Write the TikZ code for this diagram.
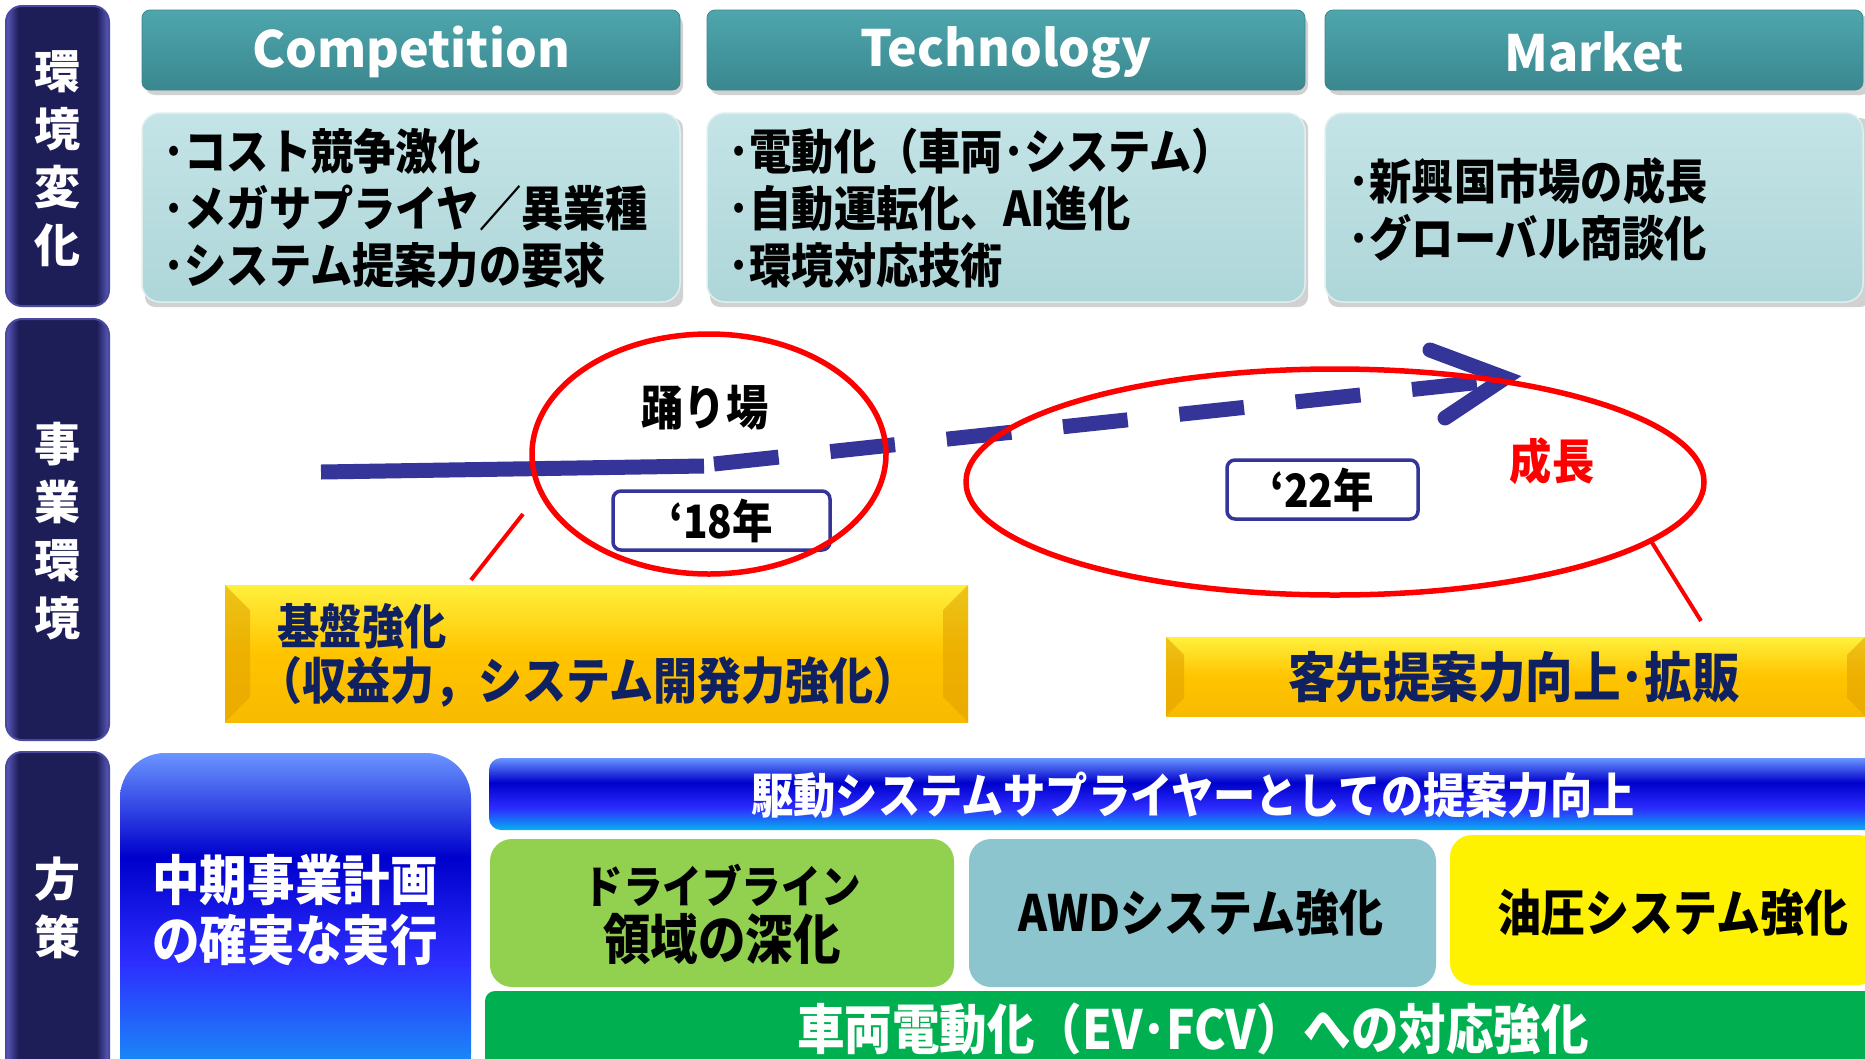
\documentclass[tikz,border=0pt]{standalone}
\usepackage{fontspec}
\usetikzlibrary{shapes.geometric}
\newfontfamily\jp{Noto Sans CJK JP}[FakeStretch=0.88]
\newfontfamily\jpn{Noto Sans CJK JP}
\definecolor{sideDark}{HTML}{1D1D58}
\definecolor{sideEdge}{HTML}{5C5CBF}
\definecolor{hdrTop}{HTML}{4FA6AD}
\definecolor{hdrBot}{HTML}{3A878F}
\definecolor{cTop}{HTML}{C4E4E6}
\definecolor{cBot}{HTML}{AED6D9}
\definecolor{arrowBlue}{HTML}{353599}
\definecolor{navyTxt}{HTML}{0F2160}
\definecolor{yTop}{HTML}{FFF03C}
\definecolor{yMid}{HTML}{FFC400}
\definecolor{yBot}{HTML}{F8BA00}
\definecolor{yBev}{HTML}{E0A000}
\definecolor{bb1}{HTML}{6A94FF}
\definecolor{bb2}{HTML}{0000CC}
\definecolor{bb3}{HTML}{2D2DFF}
\definecolor{bb4}{HTML}{1E78F8}
\definecolor{bb5}{HTML}{08B0F0}
\definecolor{dlGreen}{HTML}{92D050}
\definecolor{awdBlue}{HTML}{8CC5CD}
\definecolor{evGreen}{HTML}{00B050}
\pgfdeclarehorizontalshading{sideshade}{100bp}{color(0bp)=(sideEdge); color(25bp)=(sideEdge); color(31bp)=(sideDark); color(69bp)=(sideDark); color(75bp)=(sideEdge); color(100bp)=(sideEdge)}
\pgfdeclareverticalshading{bluebig}{100bp}{color(0bp)=(bb5); color(25bp)=(bb5); color(33bp)=(bb4); color(45bp)=(bb3); color(60bp)=(bb2); color(75bp)=(bb1); color(100bp)=(bb1)}
\pgfdeclareverticalshading{bluebar}{100bp}{color(0bp)=(bb5); color(25bp)=(bb5); color(40bp)=(bb3); color(58bp)=(bb2); color(75bp)=(bb1); color(100bp)=(bb1)}
\tikzset{
  sidebar/.style={rounded corners=16, draw=sideEdge!70!sideDark, line width=2, shading=sideshade},
  hdr/.style={rounded corners=8, top color=hdrTop, bottom color=hdrBot, draw=hdrBot, line width=0.8},
  shadowbox/.style={rounded corners=10, fill=black, opacity=0.18},
  cbox/.style={rounded corners=18, top color=cTop, bottom color=cBot, draw=white!60!cBot, line width=1.5},
  ybox/.style={top color=yTop, bottom color=yBot, middle color=yMid},
  ybev/.style={fill=yBev, opacity=0.55},
  yrbox/.style={rounded corners=8, fill=white, draw=arrowBlue, line width=3.5},
  redring/.style={ellipse, draw=red, line width=5.5, inner sep=0pt},
  redline/.style={draw=red, line width=4},
  arrowline/.style={draw=arrowBlue, line width=15},
  sidetxt/.style={text=white, font=\jpn\bfseries\fontsize{46}{58}\selectfont, align=center},
  hdrtxt/.style={text=white, font=\jpn\bfseries\fontsize{50}{60}\selectfont},
  ctxt/.style={text=black, font=\jp\bfseries\fontsize{48}{57}\selectfont, align=left, anchor=west},
  ytxt/.style={text=navyTxt, font=\jp\bfseries\fontsize{48}{58}\selectfont},
  yeartxt/.style={text=black, font=\jp\bfseries\fontsize{46}{50}\selectfont},
  wtxt/.style={text=white, font=\jp\bfseries\fontsize{50}{60}\selectfont, align=center},
  btxt/.style={text=black, font=\jp\bfseries\fontsize{50}{56}\selectfont, align=center},
}
\begin{document}
\begin{tikzpicture}[x=1pt, y=-1pt]
\useasboundingbox (0,0) rectangle (1865,1058);
\clip (0,0) rectangle (1865,1058);
\fill[white] (0,0) rectangle (1865,1058);

% ---------- side bars ----------
\path[sidebar] (6,6) rectangle (109,306);
\path[sidebar] (6,319) rectangle (109,740);
\path[sidebar] (6,752) rectangle (109,1090);
\node[sidetxt] (s1) at (57,159) {環\\境\\変\\化};
\node[sidetxt] (s2) at (57,531) {事\\業\\環\\境};
\node[sidetxt] (s3) at (57,908) {方\\策};

% ---------- headers ----------
\path[shadowbox] (145,15) rectangle (683,95);
\path[shadowbox] (710,15) rectangle (1308,95);
\path[shadowbox] (1328,15) rectangle (1870,95);
\path[hdr] (142,10) rectangle (680,90);
\path[hdr] (707,10) rectangle (1305,90);
\path[hdr] (1325,10) rectangle (1863,90);
\node[hdrtxt] (h1) at (411,52) {Competition};
\node[hdrtxt] (h2) at (1006,52) {Technology};
\node[hdrtxt] (h3) at (1594,52) {Market};

% ---------- content boxes ----------
\path[shadowbox] (145,118) rectangle (683,307);
\path[shadowbox] (710,118) rectangle (1308,307);
\path[shadowbox] (1328,118) rectangle (1870,307);
\path[cbox] (142,113) rectangle (680,302);
\path[cbox] (707,113) rectangle (1305,302);
\path[cbox] (1325,113) rectangle (1863,302);
\node[ctxt] (c1) at (160,208) {･コスト競争激化\\･メガサプライヤ／異業種\\･システム提案力の要求};
\node[ctxt] (c2) at (725,208) {･電動化（車両･システム）\\･自動運転化、AI進化\\･環境対応技術};
\node[ctxt] (c3) at (1345,209) {･新興国市場の成長\\･グローバル商談化};

% ---------- yellow boxes ----------
\path[ybox] (225,585) rectangle (968,722);
\path[ybev] (225,585) -- (250,610) -- (250,697) -- (225,722) -- cycle;
\path[ybev] (968,585) -- (943,610) -- (943,697) -- (968,722) -- cycle;
\node[ytxt, anchor=west] (y1a) at (274,626) {基盤強化};
\node[ytxt, anchor=west, font=\jp\bfseries\fontsize{50}{58}\selectfont] (y1b) at (255,682) {（収益力，システム開発力強化）};
\path[ybox] (1166,637) rectangle (1880,716);
\path[ybev] (1166,637) -- (1184,655) -- (1184,698) -- (1166,716) -- cycle;
\path[ybev] (1865,637) -- (1847,655) -- (1847,698) -- (1865,716) -- cycle;
\node[ytxt, font=\jp\bfseries\fontsize{54}{58}\selectfont] (y2) at (1514,677) {客先提案力向上･拡販};

% ---------- timeline arrow ----------
\coordinate (a0) at (321,472);
\coordinate (a1) at (704,466);
\coordinate (d0) at (714,464);
\coordinate (d1) at (1482,382);
\coordinate (tipU) at (1430,350);
\coordinate (tip) at (1505,378);
\coordinate (tipL) at (1445,418);
\draw[arrowline] (a0) -- (a1);
\draw[arrowline, dash pattern=on 65pt off 52pt] (d0) -- (d1);
\draw[arrowline, line cap=round, line join=miter] (tipU) -- (tip) -- (tipL);

% ---------- year boxes and labels ----------
\path[yrbox] (613,491) rectangle (830,550);
\node[yeartxt] (t18) at (721,521) {‘18年};
\path[yrbox] (1227,460) rectangle (1418,519);
\node[yeartxt] (t22) at (1322,490) {‘22年};
\node[yeartxt, font=\jp\bfseries\fontsize{48}{50}\selectfont] (odori) at (705,408) {踊り場};
\node[yeartxt, text=red, font=\jp\bfseries\fontsize{48}{50}\selectfont] (seicho) at (1552,461) {成長};

% ---------- red rings ----------
\node[redring, minimum width=354pt, minimum height=240pt] (e1) at (709,454) {};
\node[redring, minimum width=738pt, minimum height=226pt] (e2) at (1335,482) {};
\coordinate (l1a) at (523,514);
\coordinate (l1b) at (471,580);
\coordinate (l2a) at (1651,541);
\coordinate (l2b) at (1701,621);
\draw[redline] (l1a) -- (l1b);
\draw[redline] (l2a) -- (l2b);

% ---------- bottom section ----------
\path[rounded corners=45, shading=bluebig] (120,753) rectangle (471,1100);
\node[wtxt, font=\jp\bfseries\fontsize{54}{60}\selectfont] (plan) at (295,910) {中期事業計画\\の確実な実行};
\path[rounded corners=12, shading=bluebar] (489,758) rectangle (1880,830);
\node[wtxt, font=\jp\bfseries\fontsize{48}{60}\selectfont] (bar1) at (1193,795) {駆動システムサプライヤーとしての提案力向上};
\path[rounded corners=22, fill=dlGreen] (490,839) rectangle (954,987);
\node[btxt] (dl) at (722,914) {{\fontsize{45}{56}\selectfont ドライブライン}\\{\fontsize{54}{56}\selectfont 領域の深化}};
\path[rounded corners=22, fill=awdBlue] (969,839) rectangle (1436,987);
\node[btxt] (awd) at (1201,913) {AWDシステム強化};
\path[rounded corners=22, fill=yellow] (1450,835) rectangle (1880,985);
\node[btxt] (oil) at (1673,913) {油圧システム強化};
\path[rounded corners=10, fill=evGreen] (485,991) rectangle (1880,1090);
\node[wtxt, font=\jp\bfseries\fontsize{54}{60}\selectfont] (ev) at (1193,1029) {車両電動化（EV･FCV）への対応強化};
\end{tikzpicture}
\end{document}
